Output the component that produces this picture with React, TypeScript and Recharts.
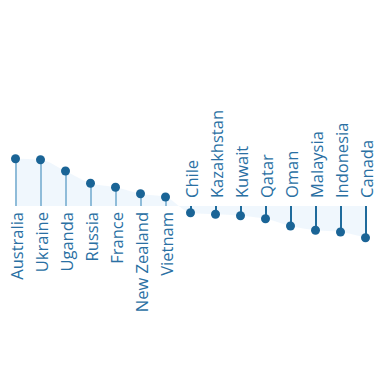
import React from "react";
import { ComposedChart, Area, Bar, Line, XAxis, YAxis, Cell, LabelList } from "recharts";

const countries = ["Australia", "Ukraine", "Uganda", "Russia", "France", "New Zealand", "Vietnam", "Chile", "Kazakhstan", "Kuwait", "Qatar", "Oman", "Malaysia", "Indonesia", "Canada"];
const values = [47.3, 46.3, 35, 22.7, 18.7, 12.3, 9, -6.7, -8.3, -9.7, -12.7, -20, -24.3, -26, -31.7];

const data = countries.map((name, i) => ({ name, value: values[i] }));

const DOT = "#1a6496";
const TEXT = "#2a70a3";

const StemLabel = (props: any) => {
  const { x, y, width, height, value, index } = props;
  const cx = x + width / 2;
  const a = y;
  const b = y + height;
  const positive = value >= 0;
  const base = positive ? Math.max(a, b) : Math.min(a, b);
  const ly = positive ? base + 6 : base - 8;
  return (
    <text
      x={cx}
      y={ly}
      transform={`rotate(-90 ${cx} ${ly})`}
      textAnchor={positive ? "end" : "start"}
      dominantBaseline="central"
      fontFamily="'Open Sans', sans-serif"
      fontSize={16.5}
      fill={TEXT}
    >
      {countries[index]}
    </text>
  );
};

export default function App() {
  return (
    <div style={{ position: "absolute", left: 0, top: 0, width: 375, height: 376, overflow: "hidden" }}>
      <ComposedChart width={378} height={376} data={data} margin={{ top: 0, right: 0, bottom: 0, left: 3 }}>
        <XAxis dataKey="name" hide padding={{ left: 0, right: 0 }} />
        <YAxis hide domain={[-170, 206]} type="number" allowDataOverflow />
        <Area
          type="monotone"
          dataKey="value"
          baseValue={0}
          stroke="none"
          fill="#e3f1fb"
          fillOpacity={0.55}
          isAnimationActive={false}
        />
        <Bar dataKey="value" barSize={2} isAnimationActive={false}>
          {data.map((d, i) => (
            <Cell key={i} fill={d.value >= 0 ? "#8fbcd9" : "#1f6b9c"} />
          ))}
          <LabelList dataKey="value" content={<StemLabel />} />
        </Bar>
        <Line
          dataKey="value"
          stroke="none"
          dot={{ r: 4.5, fill: DOT, stroke: "none" }}
          activeDot={false}
          isAnimationActive={false}
        />
      </ComposedChart>
    </div>
  );
}
